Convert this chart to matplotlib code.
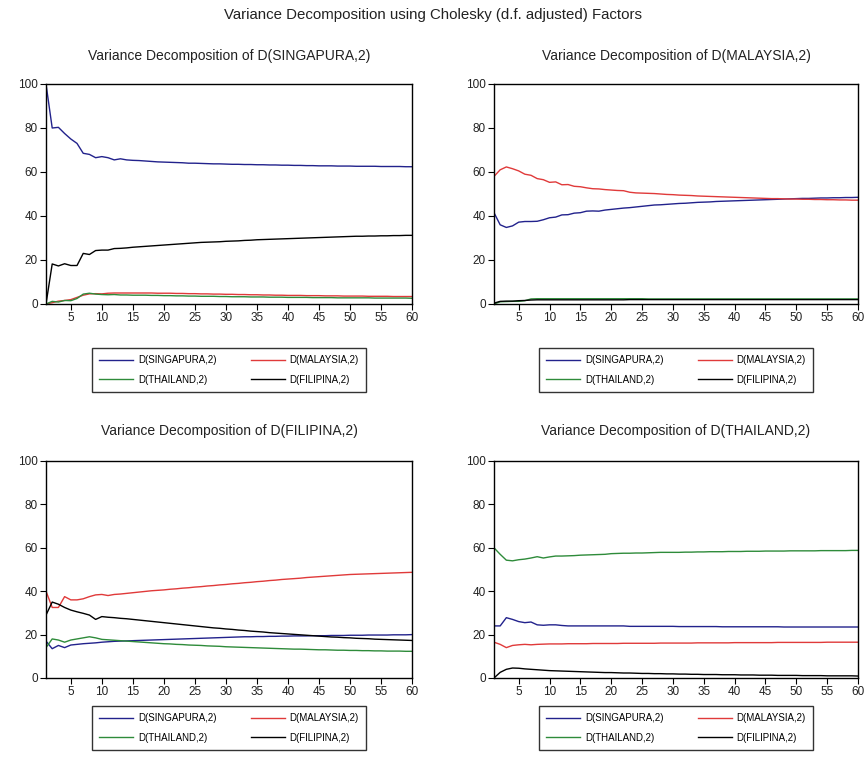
import matplotlib
matplotlib.use("Agg")
import matplotlib.pyplot as plt

plt.rcParams["font.family"] = ["Liberation Sans", "DejaVu Sans"]

periods = list(range(1, 61))
series_names = ["D(SINGAPURA,2)", "D(MALAYSIA,2)", "D(THAILAND,2)", "D(FILIPINA,2)"]
series_colors = ["#22228c", "#e03a3a", "#2e8b3a", "#000000"]

# Variance decomposition of D(SINGAPURA,2)
sg_sg = [100, 80, 80.3, 77.5, 75, 73, 68.5, 68, 66.5, 67,
         66.5, 65.5, 66, 65.5, 65.3, 65.2, 65.0, 64.8, 64.6, 64.5,
         64.4, 64.3, 64.2, 64.0, 64.0, 63.9, 63.8, 63.7, 63.7, 63.6,
         63.5, 63.5, 63.4, 63.4, 63.3, 63.3, 63.2, 63.2, 63.1, 63.1,
         63.0, 63.0, 62.9, 62.9, 62.8, 62.8, 62.8, 62.7, 62.7, 62.7,
         62.6, 62.6, 62.6, 62.6, 62.5, 62.5, 62.5, 62.5, 62.4, 62.4]
sg_my = [0, 0.6, 1.3, 1.6, 2.0, 3.0, 4.0, 4.6, 4.7, 4.6,
         4.9, 5.0, 5.0, 5.0, 5.0, 5.0, 5.0, 5.0, 4.9, 4.9,
         4.9, 4.8, 4.8, 4.7, 4.7, 4.6, 4.6, 4.5, 4.5, 4.4,
         4.4, 4.3, 4.3, 4.2, 4.2, 4.1, 4.1, 4.0, 4.0, 3.9,
         3.9, 3.9, 3.8, 3.8, 3.8, 3.7, 3.7, 3.7, 3.6, 3.6,
         3.6, 3.6, 3.5, 3.5, 3.5, 3.5, 3.4, 3.4, 3.4, 3.4]
sg_th = [0, 1.2, 0.9, 1.6, 1.5, 2.5, 4.5, 4.9, 4.5, 4.3,
         4.2, 4.3, 4.1, 4.1, 4.0, 4.0, 4.0, 3.9, 3.9, 3.8,
         3.8, 3.7, 3.7, 3.6, 3.6, 3.5, 3.5, 3.5, 3.4, 3.4,
         3.3, 3.3, 3.3, 3.2, 3.2, 3.2, 3.1, 3.1, 3.1, 3.0,
         3.0, 3.0, 3.0, 2.9, 2.9, 2.9, 2.9, 2.8, 2.8, 2.8,
         2.8, 2.8, 2.8, 2.7, 2.7, 2.7, 2.7, 2.7, 2.7, 2.6]
sg_fi = [0, 18.2, 17.3, 18.3, 17.5, 17.5, 23, 22.5, 24.3, 24.5,
         24.5, 25.2, 25.3, 25.5, 25.8, 26.0, 26.2, 26.4, 26.6, 26.8,
         27.0, 27.2, 27.4, 27.6, 27.8, 28.0, 28.1, 28.2, 28.3, 28.5,
         28.6, 28.7, 28.9, 29.0, 29.2, 29.3, 29.4, 29.5, 29.6, 29.7,
         29.8, 29.9, 30.0, 30.1, 30.2, 30.3, 30.4, 30.5, 30.6, 30.7,
         30.8, 30.8, 30.9, 30.9, 31.0, 31.0, 31.1, 31.1, 31.2, 31.2]

# Variance decomposition of D(MALAYSIA,2)
my_sg = [41.5, 36, 34.8, 35.5, 37.2, 37.5, 37.5, 37.6, 38.3, 39.2,
         39.5, 40.5, 40.6, 41.3, 41.5, 42.2, 42.3, 42.2, 42.7, 43.0,
         43.3, 43.6, 43.8, 44.1, 44.4, 44.7, 45.0, 45.1, 45.3, 45.5,
         45.7, 45.8, 46.0, 46.2, 46.3, 46.4, 46.6, 46.7, 46.8, 46.9,
         47.0, 47.1, 47.2, 47.3, 47.4, 47.5, 47.6, 47.7, 47.8, 47.9,
         48.0, 48.0, 48.1, 48.2, 48.2, 48.3, 48.3, 48.4, 48.4, 48.5]
my_my = [58, 61, 62.3, 61.5, 60.5, 59, 58.5, 57, 56.5, 55.3,
         55.5, 54.2, 54.3, 53.5, 53.3, 52.8, 52.4, 52.3, 52.0, 51.8,
         51.6, 51.5, 50.8, 50.5, 50.4, 50.3, 50.2, 50.0, 49.8, 49.7,
         49.5, 49.4, 49.3, 49.1, 49.0, 48.9, 48.8, 48.7, 48.6, 48.5,
         48.4, 48.3, 48.2, 48.1, 48.0, 47.9, 47.9, 47.8, 47.7, 47.7,
         47.6, 47.6, 47.5, 47.5, 47.4, 47.4, 47.3, 47.3, 47.2, 47.2]
my_th = [0, 1.0, 1.1, 1.2, 1.2, 1.5, 2.3, 2.4, 2.4, 2.4,
         2.4, 2.4, 2.4, 2.4, 2.4, 2.4, 2.4, 2.4, 2.4, 2.4,
         2.4, 2.4, 2.4, 2.4, 2.4, 2.3, 2.3, 2.3, 2.3, 2.3,
         2.3, 2.3, 2.3, 2.3, 2.3, 2.3, 2.3, 2.3, 2.3, 2.3,
         2.3, 2.3, 2.3, 2.3, 2.3, 2.3, 2.3, 2.3, 2.3, 2.3,
         2.3, 2.3, 2.3, 2.3, 2.3, 2.3, 2.3, 2.3, 2.3, 2.3]
my_fi = [0.4, 1.2, 1.3, 1.3, 1.5, 1.6, 1.8, 1.9, 1.9, 1.9,
         1.9, 1.9, 1.9, 1.9, 1.9, 1.9, 1.9, 1.9, 1.9, 1.9,
         1.9, 1.9, 2.0, 2.0, 2.0, 2.0, 2.0, 2.0, 2.0, 2.0,
         2.0, 2.0, 2.0, 2.0, 2.0, 2.0, 2.0, 2.0, 2.0, 2.0,
         2.0, 2.0, 2.0, 2.0, 2.0, 2.0, 2.0, 2.0, 2.0, 2.0,
         2.0, 2.0, 2.0, 2.0, 2.0, 2.0, 2.0, 2.0, 2.0, 2.0]

# Variance decomposition of D(FILIPINA,2)
fi_sg = [17, 13.5, 15, 14, 15.2, 15.5, 15.8, 16, 16.2, 16.5,
         16.7, 16.9, 17.0, 17.1, 17.2, 17.3, 17.4, 17.5, 17.6, 17.7,
         17.8, 17.9, 18.0, 18.1, 18.2, 18.3, 18.4, 18.5, 18.6, 18.7,
         18.8, 18.9, 19.0, 19.0, 19.1, 19.1, 19.2, 19.2, 19.3, 19.3,
         19.4, 19.4, 19.4, 19.5, 19.5, 19.5, 19.6, 19.6, 19.6, 19.7,
         19.7, 19.7, 19.8, 19.8, 19.8, 19.8, 19.9, 19.9, 19.9, 20.0]
fi_my = [40, 32.5, 32.5, 37.5, 36, 36, 36.5, 37.5, 38.3, 38.5,
         38, 38.5, 38.7, 39.0, 39.3, 39.6, 39.9, 40.2, 40.4, 40.6,
         40.9, 41.1, 41.4, 41.6, 41.9, 42.1, 42.4, 42.6, 42.9, 43.1,
         43.4, 43.6, 43.9, 44.1, 44.4, 44.6, 44.9, 45.1, 45.4, 45.6,
         45.8, 46.0, 46.3, 46.5, 46.7, 46.9, 47.1, 47.3, 47.5, 47.7,
         47.8, 47.9, 48.0, 48.1, 48.2, 48.3, 48.4, 48.5, 48.6, 48.7]
fi_th = [14, 18, 17.5, 16.5, 17.5, 18, 18.5, 19, 18.5, 17.8,
         17.6, 17.4, 17.2, 17.0, 16.8, 16.6, 16.4, 16.2, 16.0, 15.8,
         15.7, 15.5, 15.4, 15.2, 15.1, 15.0, 14.8, 14.7, 14.6, 14.4,
         14.3, 14.2, 14.1, 14.0, 13.9, 13.8, 13.7, 13.6, 13.5, 13.4,
         13.3, 13.3, 13.2, 13.1, 13.0, 13.0, 12.9, 12.8, 12.8, 12.7,
         12.7, 12.6, 12.6, 12.5, 12.5, 12.4, 12.4, 12.4, 12.3, 12.3]
fi_fi = [29, 35, 34, 32.5, 31.3, 30.5, 29.8, 29, 27, 28.3,
         28, 27.8, 27.5, 27.3, 27.0, 26.7, 26.4, 26.1, 25.8, 25.5,
         25.2, 24.9, 24.6, 24.3, 24.0, 23.7, 23.4, 23.1, 22.9, 22.6,
         22.4, 22.1, 21.9, 21.6, 21.4, 21.2, 20.9, 20.7, 20.5, 20.3,
         20.1, 19.9, 19.7, 19.5, 19.3, 19.1, 18.9, 18.8, 18.6, 18.5,
         18.3, 18.2, 18.1, 17.9, 17.8, 17.7, 17.6, 17.5, 17.4, 17.3]

# Variance decomposition of D(THAILAND,2)
th_sg = [24, 24, 27.8, 27, 26, 25.5, 25.8, 24.5, 24.3, 24.5,
         24.5, 24.2, 24.0, 24.0, 24.0, 24.0, 24.0, 24.0, 24.0, 24.0,
         24.0, 24.0, 23.8, 23.8, 23.8, 23.8, 23.8, 23.8, 23.8, 23.8,
         23.7, 23.7, 23.7, 23.7, 23.7, 23.7, 23.7, 23.6, 23.6, 23.6,
         23.6, 23.6, 23.6, 23.6, 23.6, 23.6, 23.6, 23.5, 23.5, 23.5,
         23.5, 23.5, 23.5, 23.5, 23.5, 23.5, 23.5, 23.5, 23.5, 23.5]
th_my = [16.5, 15.5, 14.0, 15.0, 15.3, 15.5, 15.3, 15.5, 15.6, 15.7,
         15.7, 15.7, 15.8, 15.8, 15.8, 15.8, 15.9, 15.9, 15.9, 15.9,
         15.9, 16.0, 16.0, 16.0, 16.0, 16.0, 16.0, 16.1, 16.1, 16.1,
         16.1, 16.1, 16.1, 16.2, 16.2, 16.2, 16.2, 16.2, 16.2, 16.3,
         16.3, 16.3, 16.3, 16.3, 16.3, 16.3, 16.4, 16.4, 16.4, 16.4,
         16.4, 16.4, 16.4, 16.4, 16.5, 16.5, 16.5, 16.5, 16.5, 16.5]
th_th = [60, 57, 54.3, 54, 54.5, 54.8, 55.3, 55.9, 55.3, 55.8,
         56.2, 56.2, 56.3, 56.4, 56.6, 56.7, 56.8, 56.9, 57.0, 57.3,
         57.4, 57.5, 57.5, 57.6, 57.6, 57.7, 57.8, 57.9, 57.9, 57.9,
         57.9, 58.0, 58.0, 58.1, 58.1, 58.2, 58.2, 58.2, 58.3, 58.3,
         58.3, 58.4, 58.4, 58.4, 58.5, 58.5, 58.5, 58.5, 58.6, 58.6,
         58.6, 58.6, 58.6, 58.7, 58.7, 58.7, 58.7, 58.7, 58.8, 58.8]
th_fi = [0, 2.6, 4.0, 4.6, 4.5, 4.2, 4.0, 3.8, 3.6, 3.4,
         3.3, 3.2, 3.1, 3.0, 2.9, 2.8, 2.7, 2.6, 2.5, 2.5,
         2.4, 2.3, 2.3, 2.2, 2.1, 2.1, 2.0, 2.0, 1.9, 1.9,
         1.8, 1.8, 1.7, 1.7, 1.6, 1.6, 1.6, 1.5, 1.5, 1.5,
         1.4, 1.4, 1.4, 1.3, 1.3, 1.3, 1.2, 1.2, 1.2, 1.2,
         1.1, 1.1, 1.1, 1.1, 1.0, 1.0, 1.0, 1.0, 1.0, 0.9]

panels = [
    ("Variance Decomposition of D(SINGAPURA,2)", [sg_sg, sg_my, sg_th, sg_fi]),
    ("Variance Decomposition of D(MALAYSIA,2)", [my_sg, my_my, my_th, my_fi]),
    ("Variance Decomposition of D(FILIPINA,2)", [fi_sg, fi_my, fi_th, fi_fi]),
    ("Variance Decomposition of D(THAILAND,2)", [th_sg, th_my, th_th, th_fi]),
]

W, H = 866, 764
# axes boxes in pixels: left, top, right, bottom
boxes = [(46, 84, 412, 304), (494, 84, 858, 304), (46, 461, 412, 678), (494, 461, 858, 678)]
legend_tops = [343, 343, 701, 701]
title_pads = [17, 17, 19, 19]

fig = plt.figure(figsize=(W / 100, H / 100), dpi=100)
fig.suptitle("Variance Decomposition using Cholesky (d.f. adjusted) Factors",
             y=1 - 15 / H, va="center", fontsize=10.8, color="#222222")

for (title, values), (l, t, r, b), ltop, tpad in zip(panels, boxes, legend_tops, title_pads):
    ax = fig.add_axes([l / W, 1 - b / H, (r - l) / W, (b - t) / H])
    lines = []
    for name, color, ys in zip(series_names, series_colors, values):
        (ln,) = ax.plot(periods, ys, color=color, lw=1.0, label=name)
        lines.append(ln)
    ax.set_xlim(1, 60)
    ax.set_ylim(0, 100)
    ax.set_xticks(range(5, 61, 5))
    ax.set_yticks(range(0, 101, 20))
    ax.tick_params(direction="out", length=4, width=0.8, labelsize=8.5,
                   labelcolor="#222222", pad=2)
    for s in ax.spines.values():
        s.set_linewidth(1.0)
    ax.set_title(title, fontsize=10, pad=tpad, color="#222222")
    # 2 columns, filled column-first -> order SG, TH, MY, FI
    order = [0, 2, 1, 3]
    fig.legend([lines[i] for i in order], [series_names[i] for i in order],
               ncol=2, loc="upper center",
               bbox_to_anchor=((l + r) / 2 / W, 1 - ltop / H),
               fontsize=7, frameon=True, fancybox=False, edgecolor="black",
               handlelength=3.5, columnspacing=3.5, borderpad=0.75,
               labelspacing=1.0, handletextpad=0.5)

fig.savefig("out.png", dpi=100)
